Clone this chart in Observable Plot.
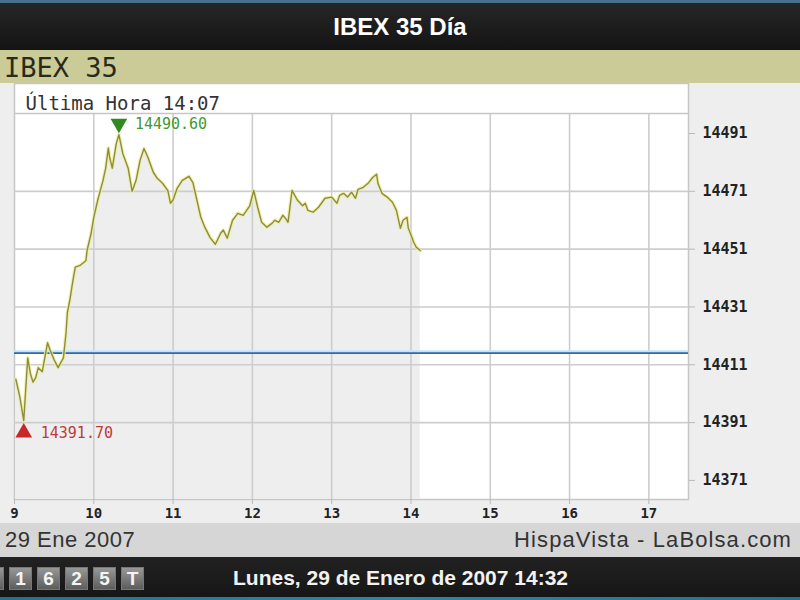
<!DOCTYPE html>
<html>
<head>
<meta charset="utf-8">
<script src="https://cdn.jsdelivr.net/npm/d3@7"></script>
<script src="https://cdn.jsdelivr.net/npm/@observablehq/plot@0.6"></script>
<style>
  html, body { margin: 0; padding: 0; }
  body { width: 800px; height: 600px; overflow: hidden; background: #eeeeee; }
  #top { height: 50px; background: linear-gradient(#46708e 0px, #46708e 3px, #262626 3px, #141414 50px);
         color: #fff; font: bold 24px "Liberation Sans", Arial, sans-serif; text-align: center; line-height: 54px; }
  #band { height: 33px; background: #cbcb98; color: #2a2a1c; font: 27px "DejaVu Sans Mono", monospace;
          line-height: 35px; padding-left: 4px; }
  #chart { height: 440px; }
  #chart svg { display: block; }
  #foot { height: 34px; background: #d6d6d6; color: #333; font: 22px "Liberation Sans", Arial, sans-serif;
          letter-spacing: 0.5px; line-height: 34px; position: relative; }
  #foot .l { position: absolute; left: 5px; top: 0; }
  #foot .r { position: absolute; right: 8px; top: 0; letter-spacing: 1.1px; }
  #bottom { height: 40px; background: linear-gradient(#222, #161616); position: relative; }
  #bottom .date { position: absolute; left: 233px; top: 0; color: #f2f2f2;
                  font: bold 21px "Liberation Sans", Arial, sans-serif; line-height: 42px; }
  #bottom .tile { position: absolute; top: 10px; width: 23px; height: 23px; background: linear-gradient(#9a9a9a, #5a5a5a);
                  color: #f4f4f4; font: bold 19px "Liberation Sans", Arial, sans-serif; text-align: center; line-height: 24px;
                  box-shadow: inset 0 0 0 1px #777; }
  #strip { height: 3px; background: linear-gradient(90deg, #2a6f8c, #2f86a0, #2a6f8c); }
</style>
</head>
<body>
<div id="top"></div>
<div id="band"></div>
<div id="chart"></div>
<div id="foot"><span class="l"></span><span class="r"></span></div>
<div id="bottom"></div>
<div id="strip"></div>
<script>
// ---- texts ----
const pageTitle = "IBEX 35 Día";
const indexName = "IBEX 35";
const lastUpdate = "Última Hora 14:07";
const dateShort = "29 Ene 2007";
const source = "HispaVista - LaBolsa.com";
const dateLong = "Lunes, 29 de Enero de 2007 14:32";
const counterTiles = ["", "1", "6", "2", "5", "T"];

// ---- data: minutes after 09:00 and index value ----
const minutes = [1, 4, 7, 10, 12, 14, 16, 18, 21, 25, 27, 30, 33, 37, 39, 40, 42, 44, 46, 50,
  54, 55, 58, 60, 63, 67, 69, 71, 72, 74, 77, 79, 82, 86, 89, 92, 95, 98, 101, 105,
  108, 112, 116, 118, 120, 123, 127, 132, 135, 138, 141, 144, 148, 152, 156, 158, 161, 165, 169, 173,
  178, 181, 184, 187, 191, 195, 197, 200, 203, 205, 207, 210, 214, 218, 220, 222, 226, 230, 235, 240,
  244, 246, 249, 252, 255, 258, 260, 264, 268, 271, 274, 275, 278, 282, 286, 289, 292, 294, 297, 298,
  301, 302, 304, 307];
const values = [14406, 14400, 14391.7, 14413.4, 14408, 14405, 14406.5, 14410, 14408.6, 14418.6, 14416, 14412.7, 14410, 14413.4, 14422, 14429, 14433.7, 14439.6, 14444.8, 14445.5,
  14447, 14450.7, 14456.5, 14462, 14468, 14474.8, 14479, 14486, 14482.7, 14479, 14487.5, 14490.6, 14484, 14479, 14471, 14474.8, 14481.7, 14485.8, 14482.7, 14477.6,
  14475.5, 14473.8, 14471.3, 14466.9, 14468, 14472, 14474.8, 14476.2, 14474, 14468, 14462, 14458.6, 14455, 14452.7, 14456.5, 14457.6, 14454.8, 14461, 14463.4, 14462.7,
  14466, 14471.3, 14465.5, 14460.3, 14458.6, 14460, 14461, 14460.3, 14462.7, 14461.7, 14460.3, 14471.3, 14468, 14466, 14466.9, 14464.4, 14463.8, 14465.5, 14468.6, 14469,
  14466.9, 14469.6, 14470.3, 14469, 14470.7, 14468.6, 14471.7, 14472.4, 14474, 14475.8, 14476.9, 14473.8, 14470.3, 14469, 14467.2, 14464.4, 14458.2, 14461, 14462, 14458.2,
  14454.8, 14453.4, 14451.7, 14450.5];
const prevClose = 14415;

// ---- axes ----
const hourTicks = [9, 10, 11, 12, 13, 14, 15, 16, 17];
const gridHours = [10, 11, 12, 13, 14, 15, 16, 17];
const yTicks = [14371, 14391, 14411, 14431, 14451, 14471, 14491];
const yGrid = [14391, 14411, 14431, 14451, 14471];
const xDomain = [9, 17.5];
const yDomain = [14364.4, 14508.3];
const headerLevel = 14497.9;

document.getElementById("top").textContent = pageTitle;
document.getElementById("band").textContent = indexName;
document.querySelector("#foot .l").textContent = dateShort;
document.querySelector("#foot .r").textContent = source;
const bottom = document.getElementById("bottom");
counterTiles.forEach((t, i) => {
  const s = document.createElement("span");
  s.className = "tile";
  s.style.left = (i * 28 - 19) + "px";
  s.textContent = t;
  bottom.appendChild(s);
});
const dl = document.createElement("span");
dl.className = "date";
dl.textContent = dateLong;
bottom.appendChild(dl);

const data = minutes.map((m, i) => ({hour: 9 + m / 60, value: values[i]}));
const peak = data.reduce((a, b) => (b.value > a.value ? b : a));
const low = data.reduce((a, b) => (b.value < a.value ? b : a));

const mono = "'DejaVu Sans Mono', monospace";
const gridColor = "#cdcdcd";

const chart = Plot.plot({
  width: 800,
  height: 440,
  marginLeft: 14,
  marginRight: 112,
  marginTop: 0,
  marginBottom: 24,
  style: {background: "#eeeeee", fontFamily: mono, overflow: "visible"},
  x: {domain: xDomain},
  y: {domain: yDomain},
  marks: [
    Plot.frame({fill: "white", stroke: "#c6c6c6", strokeWidth: 1.5}),
    Plot.areaY(data, {x: "hour", y1: yDomain[0], y2: "value", fill: "#eeeeee"}),
    Plot.ruleY(yGrid, {stroke: gridColor, strokeWidth: 1.6}),
    Plot.ruleX(gridHours, {y1: yDomain[0], y2: headerLevel, stroke: gridColor, strokeWidth: 1.6}),
    Plot.ruleY([headerLevel], {stroke: "#c6c6c6", strokeWidth: 1.5}),
    Plot.text([lastUpdate], {frameAnchor: "top-left", dx: 11, dy: 20, lineAnchor: "middle", textAnchor: "start",
      fontSize: 19, fill: "#333", fontFamily: mono}),
    Plot.ruleY([prevClose], {stroke: "#bfe6f6", strokeWidth: 3, dy: -1.5}),
    Plot.ruleY([prevClose], {stroke: "#2c6aa8", strokeWidth: 1.8}),
    Plot.lineY(data, {x: "hour", y: "value", stroke: "#eded9a", strokeWidth: 3.6, strokeOpacity: 0.8}),
    Plot.lineY(data, {x: "hour", y: "value", stroke: "#8c8c42", strokeWidth: 1.4}),
    Plot.dot([peak], {x: "hour", y: "value", symbol: "triangle", rotate: 180, r: 6.2, fill: "#2f8a1f", stroke: "none", dy: -11}),
    Plot.text([peak], {x: "hour", y: "value", text: d => d.value.toFixed(2), dx: 16, dy: -10, textAnchor: "start",
      fill: "#3f9a30", fontSize: 15, fontFamily: mono}),
    Plot.dot([low], {x: "hour", y: "value", symbol: "triangle", r: 6.2, fill: "#c8282a", stroke: "none", dy: 12}),
    Plot.text([low], {x: "hour", y: "value", text: d => d.value.toFixed(2), dx: 17, dy: 13, textAnchor: "start",
      fill: "#c03a3a", fontSize: 15, fontFamily: mono}),
    Plot.axisX({ticks: hourTicks, anchor: "bottom", tickSize: 5, tickPadding: 4, stroke: "#b8b8b8", fill: "#222",
      fontSize: 14, fontWeight: "bold", fontFamily: mono, label: null, tickFormat: d => String(d)}),
    Plot.axisY({ticks: yTicks, anchor: "right", tickSize: 6, tickPadding: 8, stroke: "#b8b8b8", fill: "#222",
      fontSize: 15, fontWeight: "bold", fontFamily: mono, label: null, tickFormat: d => String(d)})
  ]
});
document.getElementById("chart").appendChild(chart);
</script>
</body>
</html>
